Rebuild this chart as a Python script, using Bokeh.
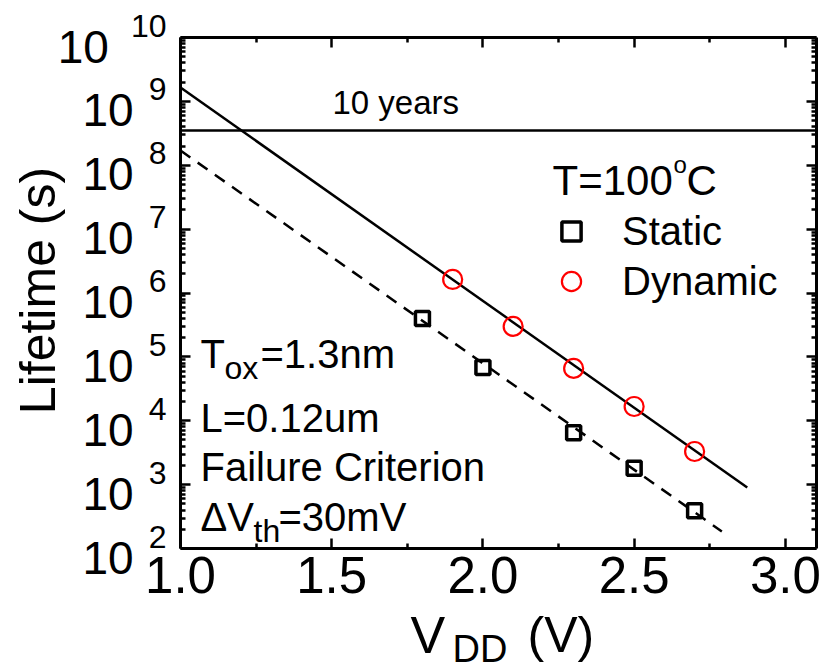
import numpy as np
from bokeh.plotting import figure
from bokeh.models import (FixedTicker, LinearAxis, LogAxis, Label, Legend,
                          LegendItem, CustomJSTickFormatter, PrintfTickFormatter, Range1d)
from bokeh.embed import file_html
from bokeh.resources import INLINE

# ---------------- data ----------------
static_vdd = [1.8, 2.0, 2.3, 2.5, 2.7]
static_life = [4.0e5, 6.8e4, 6.5e3, 1.8e3, 3.9e2]
dynamic_vdd = [1.9, 2.1, 2.3, 2.5, 2.7]
dynamic_life = [1.63e6, 3.0e5, 6.6e4, 1.67e4, 3.3e3]
fit_dynamic_vdd = [1.0, 2.874]
fit_dynamic_life = [1.65e9, 9.0e2]
fit_static_vdd = [1.0, 2.79]
fit_static_life = [1.7e8, 1.85e2]
ten_years = 3.5e8
x_ticks = [1.0, 1.5, 2.0, 2.5, 3.0]
x_minor_ticks = [1.25, 1.75, 2.25, 2.75]
y_exponents = [2, 3, 4, 5, 6, 7, 8, 9, 10]

FONT = "Liberation Sans"
W, H = 826, 670
# axis box (data limits) and its pixel placement on the canvas
BX0, BX1 = 1.0, 3.103
BY0, BY1 = 1e2, 1e10
LEFT, TOP, BW, BH = 180, 37, 636, 511
BOTTOM = TOP + BH
BASE_FIX = 13  # empirical baseline correction for Label text

# full-canvas frame: extend the ranges so the axis box lands at the same pixels
xpp = (BX1 - BX0) / BW
lpp = (np.log10(BY1) - np.log10(BY0)) / BH
x_start, x_end = BX0 - LEFT * xpp, BX1 + (W - LEFT - BW) * xpp
y_start = 10 ** (np.log10(BY0) - (H - BOTTOM) * lpp)
y_end = 10 ** (np.log10(BY1) + TOP * lpp)

p = figure(frame_width=W, frame_height=H, title=None,
           x_range=Range1d(x_start, x_end), y_range=Range1d(y_start, y_end),
           y_axis_type="log", output_backend="svg", toolbar_location=None,
           min_border=0)
p.outline_line_color = None
p.grid.visible = False
p.background_fill_color = "white"
p.border_fill_color = "white"

y_major = [10.0 ** k for k in y_exponents]
y_minor = [m * 10.0 ** k for k in y_exponents[:-1] for m in range(2, 10)]

def style_axis(ax):
    ax.axis_line_width = 3
    ax.axis_line_color = "black"
    ax.major_tick_in = 10
    ax.major_tick_out = 0
    ax.minor_tick_in = 5
    ax.minor_tick_out = 0
    ax.major_tick_line_width = 2.5
    ax.minor_tick_line_width = 2.5
    ax.major_tick_line_color = "black"
    ax.minor_tick_line_color = "black"

# bottom axis
xa = p.xaxis[0]
xa.ticker = FixedTicker(ticks=x_ticks, minor_ticks=x_minor_ticks)
xa.formatter = PrintfTickFormatter(format="%.1f")
xa.major_label_text_font = FONT
xa.major_label_text_font_size = "51px"
xa.major_label_text_color = "black"
xa.major_label_standoff = 8
xa.fixed_location = BY0
xa.bounds = (BX0, BX1)
style_axis(xa)

# left axis
ya = p.yaxis[0]
ya.ticker = FixedTicker(ticks=y_major, minor_ticks=y_minor)
ya.formatter = CustomJSTickFormatter(code="return ''")
ya.major_label_standoff = 0
ya.fixed_location = BX0
ya.bounds = (BY0, BY1)
style_axis(ya)

top_ax = LinearAxis(ticker=FixedTicker(ticks=x_ticks, minor_ticks=x_minor_ticks),
                    formatter=CustomJSTickFormatter(code="return ''"), major_label_standoff=0,
                    fixed_location=BY1, bounds=(BX0, BX1))
style_axis(top_ax)
p.add_layout(top_ax, "above")
right_ax = LogAxis(ticker=FixedTicker(ticks=y_major, minor_ticks=y_minor),
                   formatter=CustomJSTickFormatter(code="return ''"), major_label_standoff=0,
                   fixed_location=BX1, bounds=(BY0, BY1))
style_axis(right_ax)
p.add_layout(right_ax, "right")

# ---------------- marks ----------------
p.segment(x0=[BX0], y0=[ten_years], x1=[BX1], y1=[ten_years], line_color="black", line_width=2.5)
p.line(fit_dynamic_vdd, fit_dynamic_life, line_color="black", line_width=2.5)
p.line(fit_static_vdd, fit_static_life, line_color="black", line_width=2.5, line_dash="12 9")
sq = p.scatter(static_vdd, static_life, marker="square", size=14, line_width=3.5,
               line_color="black", fill_alpha=0)
ci = p.scatter(dynamic_vdd, dynamic_life, marker="circle", size=19, line_width=2.2,
               line_color="#ff0000", fill_alpha=0)

legend = Legend(items=[LegendItem(label="Static", renderers=[sq]),
                       LegendItem(label="Dynamic", renderers=[ci])],
                location=(367 + LEFT, 243 + (H - BOTTOM)), label_text_font=FONT,
                label_text_font_size="40px", label_text_color="black",
                glyph_width=48, glyph_height=48, label_standoff=27, spacing=2,
                padding=0, margin=0, border_line_alpha=0, background_fill_alpha=0)
p.add_layout(legend)

# ---------------- texts (canvas pixel positions, screen units) ----------------
def txt(text, px, py, size, align="left", baseline="alphabetic", angle=0.0, fix=True):
    dy = BASE_FIX if fix else 0
    p.add_layout(Label(x=px, y=H - py + dy, x_units="screen", y_units="screen",
                       text=text, text_font=FONT, text_font_size=f"{size}px",
                       text_color="black", text_align=align, text_baseline=baseline,
                       angle=angle))

# y tick labels 10^k
for k in y_exponents:
    tick_py = BOTTOM - (k - np.log10(BY0)) / lpp
    exp_txt = str(k)
    n = len(exp_txt)
    exp_right = 166
    main_right = exp_right - 17.8 * n - (15 + 7 * (n - 1))
    txt("10", main_right, tick_py + 22, 46, align="right")
    txt(exp_txt, exp_right, tick_py + 1, 32, align="right")

# axis titles
txt("Lifetime (s)", 50 - BASE_FIX, 290, 50, align="center", angle=np.pi / 2, fix=False)
txt("V", 410, 647, 52)
txt("DD", 452, 661, 38)
txt("(V)", 527, 647, 50)

# 10 years
txt("10 years", 332, 115, 33)

# legend title T=100oC
txt("T=100", 552, 193, 42)
txt("o", 673, 177, 24)
txt("C", 686, 193, 42)

# conditions
txt("T", 200, 366, 40)
txt("ox", 224, 380, 32)
txt("=1.3nm", 260, 366, 40)
txt("L=0.12um", 200, 430, 40)
txt("Failure Criterion", 200, 479, 40)
txt("\u0394V", 200, 529, 40)
txt("th", 253, 543, 32)
txt("=30mV", 278, 529, 40)

open("out.html", "w").write(file_html(p, INLINE))
